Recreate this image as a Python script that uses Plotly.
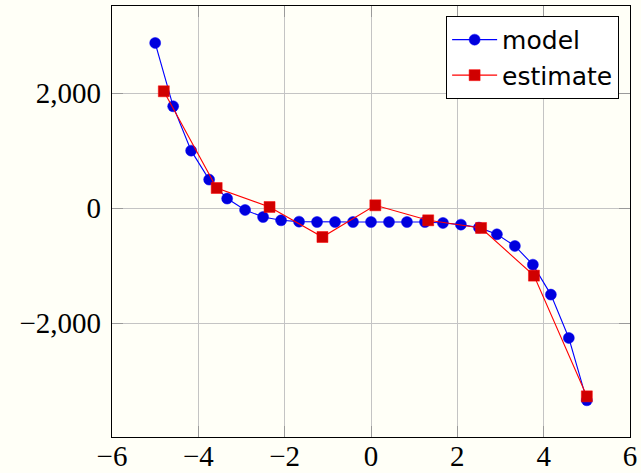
import plotly.graph_objects as go

model_x = [-5, -4.583, -4.167, -3.75, -3.333, -2.917, -2.5, -2.083, -1.667, -1.25,
           -0.833, -0.417, 0, 0.417, 0.833, 1.25, 1.667, 2.083, 2.5, 2.917,
           3.333, 3.75, 4.167, 4.583, 5]
model_y = [2875, 1774, 1003, 499, 169, -29, -151, -209, -232, -238,
           -238, -238, -238, -238, -238, -238, -255, -284, -336, -452,
           -655, -980, -1501, -2255, -3339]

est_x = [-4.8, -3.575, -2.35, -1.125, 0.1, 1.325, 2.55, 3.775, 5.0]
est_y = [2035, 353, 23, -499, 52, -209, -342, -1171, -3270]

x_ticks = [-6, -4, -2, 0, 2, 4, 6]
y_ticks = [-2000, 0, 2000]

bg = "#fffff7"
serif = "Liberation Serif"
sans = "DejaVu Sans"

fig = go.Figure()
fig.add_trace(go.Scatter(
    x=model_x, y=model_y, mode="lines+markers", name="model",
    line=dict(color="#0000ff", width=1.1),
    marker=dict(symbol="circle", size=11, color="#0000dd",
                line=dict(color="#0000ff", width=0.5)),
))
fig.add_trace(go.Scatter(
    x=est_x, y=est_y, mode="lines+markers", name="estimate",
    line=dict(color="#ff0000", width=1.1),
    marker=dict(symbol="square", size=11, color="#d00000",
                line=dict(color="#ff0000", width=0.5)),
))

axis_common = dict(
    showgrid=True, gridcolor="#c4c4c4", gridwidth=1,
    showline=True, linecolor="#000000", linewidth=1.2, mirror="ticks",
    ticks="inside", ticklen=11, tickcolor="#9a9a9a", tickwidth=1,
    zeroline=False, automargin=False,
    tickfont=dict(family=serif, size=29, color="#000000"),
)

fig.update_layout(
    width=641, height=473,
    margin=dict(l=112, r=11, t=6, b=36),
    paper_bgcolor=bg, plot_bgcolor=bg,
    showlegend=True,
    legend=dict(
        x=0.979, y=0.977, xanchor="right", yanchor="top",
        bgcolor="#ffffff", bordercolor="#000000", borderwidth=1,
        font=dict(family=sans, size=25, color="#000000"),
        tracegroupgap=0, itemwidth=45,
    ),
    xaxis=dict(range=[-6, 6], tickvals=x_ticks, ticklabelstandoff=-7, **axis_common),
    yaxis=dict(range=[-3977, 3518], tickvals=y_ticks, tickformat=",d",
               ticklabelstandoff=4, **axis_common),
)

post = "document.body.style.margin='0';document.body.style.background='%s';" % bg
fig.write_html("out.html", post_script=post, config={"displayModeBar": False})
